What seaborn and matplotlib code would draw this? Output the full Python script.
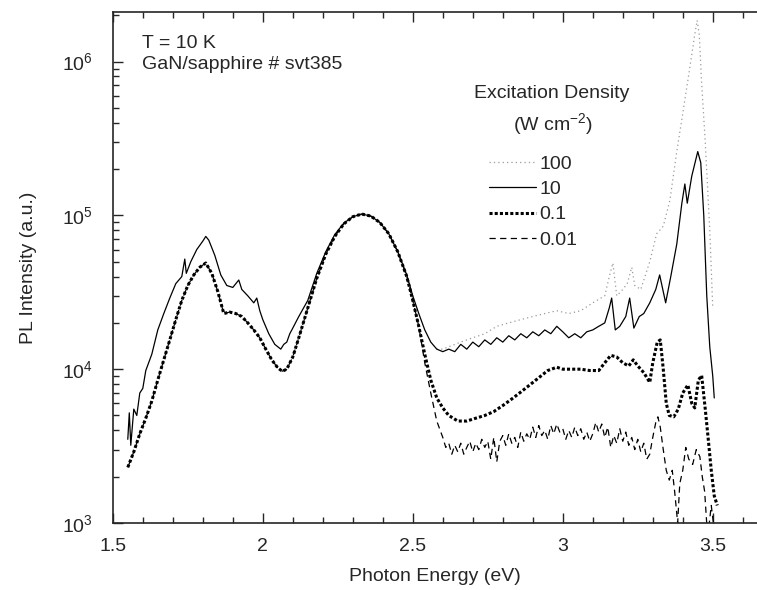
import numpy as np
import pandas as pd
import seaborn as sns
import matplotlib.pyplot as plt
from matplotlib.ticker import MultipleLocator, LogLocator, NullFormatter

# --- Datos leídos del espectro PL (GaN/sapphire, T = 10 K) ---
# 100 W cm^-2 (gris punteado, sólo visible por encima de ~2.6 eV)
e_100 = [2.58, 2.60, 2.62, 2.66, 2.70, 2.74, 2.78, 2.82, 2.86, 2.90, 2.94, 2.98,
         3.02, 3.06, 3.10, 3.14, 3.155, 3.167, 3.18, 3.20, 3.215, 3.23, 3.24,
         3.26, 3.29, 3.313, 3.335, 3.357, 3.38, 3.40, 3.423, 3.44, 3.448, 3.455,
         3.463, 3.475, 3.49, 3.50]
i_100 = [1.35e4, 1.35e4, 1.4e4, 1.5e4, 1.6e4, 1.7e4, 1.9e4, 2.0e4, 2.1e4, 2.2e4,
         2.3e4, 2.4e4, 2.3e4, 2.4e4, 2.7e4, 3.0e4, 4.0e4, 4.9e4, 3.0e4, 3.3e4,
         3.6e4, 4.6e4, 3.5e4, 3.3e4, 5.0e4, 7.6e4, 8.5e4, 1.25e5, 2.6e5, 4.6e5,
         9.0e5, 1.5e6, 1.85e6, 1.5e6, 7.2e5, 3.0e5, 8.0e4, 2.5e4]

# 10 W cm^-2 (línea continua)
e_10 = [1.55, 1.555, 1.56, 1.57, 1.58, 1.59, 1.60, 1.61, 1.63, 1.65, 1.67, 1.69,
        1.71, 1.73, 1.74, 1.745, 1.76, 1.78, 1.80, 1.81, 1.82, 1.84, 1.86, 1.88,
        1.90, 1.92, 1.93, 1.95, 1.97, 1.98, 1.99, 2.00, 2.02, 2.04, 2.06, 2.07,
        2.08, 2.09, 2.10, 2.12, 2.15, 2.18, 2.21, 2.24, 2.27, 2.30, 2.33, 2.36,
        2.39, 2.42, 2.45, 2.48, 2.50, 2.52, 2.54, 2.56, 2.58, 2.60, 2.62, 2.64,
        2.66, 2.68, 2.70, 2.72, 2.74, 2.76, 2.78, 2.80, 2.82, 2.84, 2.86, 2.88,
        2.90, 2.92, 2.94, 2.96, 2.98, 3.00, 3.02, 3.04, 3.06, 3.08, 3.10, 3.12,
        3.14, 3.155, 3.163, 3.175, 3.19, 3.21, 3.223, 3.237, 3.255, 3.27, 3.29,
        3.31, 3.323, 3.343, 3.36, 3.38, 3.397, 3.407, 3.415, 3.43, 3.45, 3.46,
        3.47, 3.48, 3.49, 3.50, 3.505]
i_10 = [3.5e3, 5.2e3, 3.2e3, 5.5e3, 5.0e3, 7.0e3, 7.5e3, 9.8e3, 1.25e4, 1.8e4,
        2.3e4, 2.9e4, 3.6e4, 4.0e4, 5.2e4, 4.2e4, 5.0e4, 6.0e4, 6.8e4, 7.3e4,
        6.9e4, 5.5e4, 4.1e4, 3.5e4, 3.4e4, 3.8e4, 3.3e4, 3.0e4, 2.7e4, 2.9e4,
        2.4e4, 2.1e4, 1.7e4, 1.45e4, 1.35e4, 1.45e4, 1.5e4, 1.7e4, 1.85e4, 2.2e4,
        2.8e4, 4.2e4, 5.8e4, 7.5e4, 8.9e4, 9.8e4, 1.02e5, 9.9e4, 9.0e4, 7.6e4,
        5.8e4, 4.1e4, 3.0e4, 2.3e4, 1.8e4, 1.5e4, 1.35e4, 1.3e4, 1.35e4, 1.3e4,
        1.45e4, 1.35e4, 1.5e4, 1.4e4, 1.55e4, 1.45e4, 1.6e4, 1.5e4, 1.65e4, 1.55e4,
        1.7e4, 1.6e4, 1.75e4, 1.65e4, 1.8e4, 1.7e4, 1.9e4, 1.75e4, 1.6e4, 1.7e4,
        1.6e4, 1.75e4, 1.8e4, 1.9e4, 2.0e4, 2.5e4, 2.9e4, 1.8e4, 1.9e4, 2.2e4,
        2.9e4, 1.85e4, 2.2e4, 2.3e4, 2.7e4, 3.3e4, 4.1e4, 2.7e4, 4.0e4, 6.5e4,
        1.2e5, 1.6e5, 1.2e5, 1.8e5, 2.6e5, 2.2e5, 1.0e5, 3.0e4, 1.4e4, 9.0e3,
        6.5e3]

# 0.1 W cm^-2 (punteado grueso)
e_01 = [1.55, 1.57, 1.59, 1.61, 1.63, 1.65, 1.67, 1.69, 1.71, 1.73, 1.75, 1.77,
        1.79, 1.81, 1.83, 1.85, 1.87, 1.89, 1.91, 1.93, 1.95, 1.97, 1.99, 2.01,
        2.03, 2.05, 2.065, 2.08, 2.10, 2.12, 2.15, 2.18, 2.21, 2.24, 2.27, 2.30,
        2.33, 2.36, 2.39, 2.42, 2.45, 2.48, 2.50, 2.52, 2.54, 2.56, 2.58, 2.60,
        2.62, 2.65, 2.68, 2.71, 2.74, 2.77, 2.80, 2.83, 2.86, 2.89, 2.92, 2.95,
        2.98, 3.00, 3.03, 3.06, 3.09, 3.12, 3.14, 3.16, 3.18, 3.20, 3.22, 3.235,
        3.25, 3.27, 3.29, 3.30, 3.315, 3.325, 3.335, 3.345, 3.355, 3.37, 3.385,
        3.40, 3.417, 3.43, 3.44, 3.452, 3.463, 3.475, 3.485, 3.495, 3.505, 3.515]
i_01 = [2.3e3, 2.9e3, 3.8e3, 4.8e3, 6.2e3, 8.5e3, 1.15e4, 1.55e4, 2.1e4, 2.8e4,
        3.5e4, 4.1e4, 4.6e4, 4.9e4, 4.2e4, 3.2e4, 2.3e4, 2.35e4, 2.3e4, 2.2e4,
        2.0e4, 1.8e4, 1.6e4, 1.35e4, 1.15e4, 1.02e4, 9.7e3, 1.0e4, 1.2e4, 1.6e4,
        2.5e4, 3.9e4, 5.6e4, 7.3e4, 8.8e4, 9.8e4, 1.02e5, 9.9e4, 9.0e4, 7.6e4,
        5.8e4, 4.0e4, 2.8e4, 1.9e4, 1.25e4, 8.5e3, 6.5e3, 5.6e3, 5.0e3, 4.6e3,
        4.6e3, 4.8e3, 5.0e3, 5.3e3, 5.8e3, 6.4e3, 7.1e3, 7.9e3, 8.8e3, 9.8e3,
        1.03e4, 1.0e4, 1.0e4, 1.0e4, 9.8e3, 9.8e3, 1.1e4, 1.23e4, 1.2e4, 1.1e4,
        1.05e4, 1.15e4, 1.05e4, 9.5e3, 8.2e3, 1.1e4, 1.5e4, 1.55e4, 1.0e4, 6.0e3,
        5.0e3, 4.9e3, 5.5e3, 7.0e3, 7.9e3, 6.0e3, 5.6e3, 8.5e3, 9.1e3, 5.5e3,
        3.5e3, 2.2e3, 1.5e3, 1.3e3]

# 0.01 W cm^-2 (discontinua)
e_001 = [1.55, 1.57, 1.59, 1.61, 1.63, 1.65, 1.67, 1.69, 1.71, 1.73, 1.75, 1.77,
         1.79, 1.81, 1.83, 1.85, 1.87, 1.89, 1.91, 1.93, 1.95, 1.97, 1.99, 2.01,
         2.03, 2.05, 2.065, 2.08, 2.10, 2.12, 2.15, 2.18, 2.21, 2.24, 2.27, 2.30,
         2.33, 2.36, 2.39, 2.42, 2.45, 2.48, 2.50, 2.52, 2.54, 2.56, 2.58, 2.60,
         2.61, 2.62, 2.63, 2.64, 2.65, 2.66, 2.67, 2.68, 2.69, 2.70, 2.71, 2.72,
         2.73, 2.74, 2.75, 2.76, 2.77, 2.78, 2.79, 2.80, 2.81, 2.82, 2.83, 2.84,
         2.85, 2.86, 2.87, 2.88, 2.89, 2.90, 2.91, 2.92, 2.93, 2.94, 2.95, 2.96,
         2.97, 2.98, 2.99, 3.00, 3.01, 3.02, 3.03, 3.04, 3.05, 3.06, 3.07, 3.08,
         3.09, 3.10, 3.11, 3.12, 3.13, 3.14, 3.15, 3.16, 3.17, 3.18, 3.19, 3.20,
         3.21, 3.22, 3.23, 3.24, 3.25, 3.26, 3.27, 3.28, 3.29, 3.30, 3.31, 3.317,
         3.325, 3.335, 3.345, 3.355, 3.365, 3.373, 3.383, 3.39, 3.40, 3.41, 3.42,
         3.433, 3.445, 3.457, 3.465, 3.473, 3.483, 3.495, 3.505]
i_001 = [2.3e3, 2.9e3, 3.8e3, 4.8e3, 6.2e3, 8.5e3, 1.15e4, 1.55e4, 2.1e4, 2.8e4,
         3.5e4, 4.1e4, 4.6e4, 4.9e4, 4.2e4, 3.2e4, 2.3e4, 2.35e4, 2.3e4, 2.2e4,
         2.0e4, 1.8e4, 1.6e4, 1.35e4, 1.15e4, 1.02e4, 9.7e3, 1.0e4, 1.2e4, 1.6e4,
         2.5e4, 3.9e4, 5.6e4, 7.3e4, 8.8e4, 9.8e4, 1.02e5, 9.9e4, 9.0e4, 7.6e4,
         5.8e4, 4.0e4, 2.8e4, 1.9e4, 1.1e4, 7.0e3, 4.6e3, 3.6e3,
         3.1e3, 3.3e3, 2.8e3, 3.2e3, 2.9e3, 3.3e3, 2.8e3, 3.1e3, 3.4e3, 2.9e3,
         3.3e3, 3.0e3, 3.5e3, 3.1e3, 3.4e3, 2.6e3, 3.6e3, 2.5e3, 3.4e3, 3.7e3,
         3.2e3, 3.8e3, 3.3e3, 3.6e3, 3.1e3, 3.9e3, 3.4e3, 3.8e3, 3.5e3, 4.2e3,
         3.6e3, 4.3e3, 3.7e3, 4.0e3, 3.5e3, 4.3e3, 3.8e3, 4.4e3, 3.9e3, 4.1e3,
         3.5e3, 4.0e3, 3.6e3, 4.2e3, 3.7e3, 4.1e3, 3.5e3, 3.9e3, 3.4e3, 3.8e3,
         4.5e3, 3.9e3, 4.4e3, 3.6e3, 4.2e3, 3.1e3, 3.7e3, 3.3e3, 4.1e3, 3.4e3,
         3.9e3, 3.2e3, 3.6e3, 3.0e3, 3.5e3, 2.9e3, 3.3e3, 2.6e3, 2.8e3, 3.6e3,
         4.5e3, 4.9e3, 4.2e3, 3.0e3, 2.2e3, 1.9e3, 2.2e3, 1.6e3, 1.0e3, 1.8e3,
         2.2e3, 3.1e3, 2.6e3, 2.4e3, 3.0e3, 2.7e3, 2.0e3, 1.6e3, 8.0e2, 1.3e3,
         9.0e2]

labels = ["100", "10", "0.1", "0.01"]

# --- Estilo ---
sns.set_style("ticks")
plt.rcParams["font.family"] = ["Liberation Sans", "DejaVu Sans"]
plt.rcParams["mathtext.fontset"] = "custom"
plt.rcParams["mathtext.rm"] = "Liberation Sans"
plt.rcParams["mathtext.it"] = "Liberation Sans"
plt.rcParams["xtick.direction"] = "in"
plt.rcParams["ytick.direction"] = "in"

fig = plt.figure(figsize=(7.57, 5.90), dpi=100)
ax = fig.add_axes([0.149, 0.1136, 0.852, 0.866])

styles = {
    "100": dict(color="#9a9a9a", lw=0.9, linestyle=(0, (1, 2.5))),
    "10": dict(color="black", lw=0.9, linestyle="-"),
    "0.1": dict(color="black", lw=2.2, linestyle=(0, (1.0, 0.7))),
    "0.01": dict(color="black", lw=0.9, linestyle=(0, (5, 3.5))),
}
series = {
    "100": (e_100, i_100),
    "10": (e_10, i_10),
    "0.01": (e_001, i_001),
    "0.1": (e_01, i_01),
}
for name, (e, i) in series.items():
    sns.lineplot(x=e, y=i, ax=ax, estimator=None, sort=False, label=name,
                 **styles[name])

ax.set_yscale("log")
ax.set_xlim(1.5, 3.65)
ax.set_ylim(1e3, 2.1e6)

ax.xaxis.set_major_locator(MultipleLocator(0.5))
ax.xaxis.set_minor_locator(MultipleLocator(0.1))
ax.xaxis.set_major_formatter(plt.FuncFormatter(lambda v, p: f"{v:g}"))
ax.yaxis.set_major_locator(LogLocator(base=10))
ax.yaxis.set_minor_locator(LogLocator(base=10, subs=np.arange(2, 10)))
ax.yaxis.set_minor_formatter(NullFormatter())
ax.tick_params(which="both", top=True, right=False, labelsize=14, width=1)
ax.tick_params(which="major", length=7)
ax.tick_params(which="minor", length=4)
ax.tick_params(axis="x", pad=11)
ax.tick_params(axis="y", pad=14)
for s in ax.spines.values():
    s.set_linewidth(1.2)

ax.set_xlabel("Photon Energy (eV)", fontsize=14, labelpad=9)
ax.set_ylabel("PL Intensity (a.u.)", fontsize=14, labelpad=18)

# --- Anotaciones ---
ax.text(0.045, 0.955, "T = 10 K", transform=ax.transAxes, fontsize=14, va="top")
ax.text(0.045, 0.913, "GaN/sapphire # svt385", transform=ax.transAxes,
        fontsize=14, va="top")
ax.text(0.68, 0.841, "Excitation Density", transform=ax.transAxes,
        fontsize=14, ha="center", va="center")
ax.text(0.683, 0.781, "(W cm$^{-2}$)", transform=ax.transAxes,
        fontsize=14, ha="center", va="center")

handles, labs = ax.get_legend_handles_labels()
order = [labs.index(l) for l in labels]
ax.legend([handles[k] for k in order], labels, loc="upper left",
          bbox_to_anchor=(0.584, 0.72), frameon=False, fontsize=14,
          handlelength=2.4, handletextpad=0.15, labelspacing=0.4,
          borderpad=0, borderaxespad=0)

fig.savefig("out.png", dpi=100)
